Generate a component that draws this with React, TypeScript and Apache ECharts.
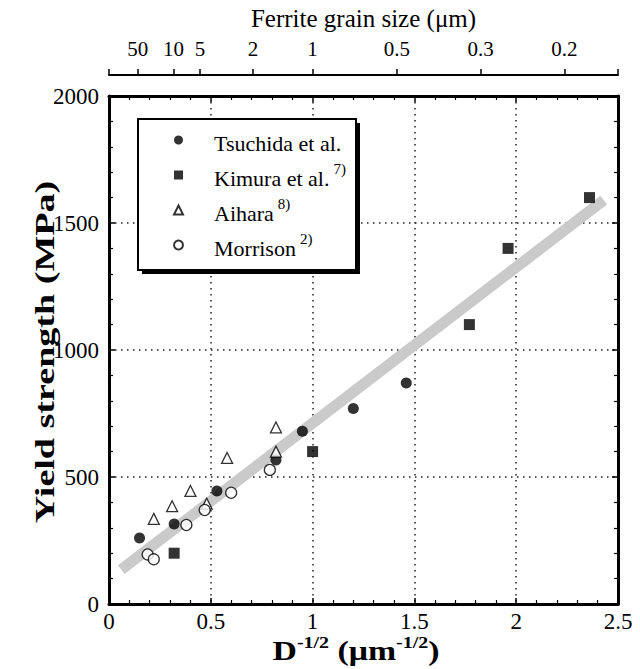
import { useEffect, useRef } from "react";
import * as echarts from "echarts";

const FONT = "Liberation Serif";

// Data (x = D^-1/2 in µm^-1/2, y = yield strength in MPa)
const tsuchida = [[0.15, 260], [0.32, 315], [0.53, 445], [0.82, 567], [0.95, 680], [1.2, 770], [1.46, 870]];
const kimura = [[0.32, 200], [1.0, 600], [1.77, 1100], [1.96, 1400], [2.36, 1600]];
const aihara = [[0.22, 335], [0.31, 385], [0.4, 445], [0.48, 395], [0.58, 575], [0.82, 695], [0.82, 600]];
const morrison = [[0.19, 195], [0.22, 176], [0.38, 311], [0.47, 370], [0.6, 438], [0.79, 528]];
const hallPetchFit = [[0.06, 135], [2.43, 1590]];

// Top axis: ferrite grain size labels (µm), placed at D^-1/2
const grainSizes = [50, 10, 5, 2, 1, 0.5, 0.3, 0.2];

const xMin = 0, xMax = 2.5, xStep = 0.5;
const yMin = 0, yMax = 2000, yStep = 500;

const legendNames = ["Tsuchida et al.", "Kimura et al.", "Aihara", "Morrison"];
const legendRefs = ["", "7)", "8)", "2)"];

export default function App() {
  const ref = useRef<HTMLDivElement>(null);
  useEffect(() => {
    document.body.style.margin = "0";
    if (!ref.current) return;
    const chart = echarts.init(ref.current, null, { renderer: "svg" });
    const grainPos = grainSizes.map((d) => 1 / Math.sqrt(d));

    const dotted = { color: "#222", width: 1.5, type: [1.5, 4.5] as any };
    const frameAxis = (extra: any) => ({
      type: "value",
      axisLine: { show: true, onZero: false, lineStyle: { color: "#000", width: 3 } },
      axisTick: { show: true, inside: true, length: 6, lineStyle: { color: "#000", width: 1.5 } },
      minorTick: { show: true, splitNumber: 5, length: 4, lineStyle: { color: "#000", width: 1.2 } },
      ...extra,
    });

    const labelStyle = { color: "#000", fontFamily: FONT, fontSize: 23 };

    chart.setOption({
      animation: false,
      backgroundColor: "#fff",
      textStyle: { fontFamily: FONT },
      grid: { left: 109, right: 22, top: 96, bottom: 65, containLabel: false },
      xAxis: [
        frameAxis({
          position: "bottom",
          min: xMin,
          max: xMax,
          interval: xStep,
          axisLabel: { ...labelStyle, margin: 6, formatter: (v: number) => String(v) },
          splitLine: { show: true, lineStyle: dotted },
        }),
        frameAxis({
          position: "top",
          min: xMin,
          max: xMax,
          interval: xStep,
          axisLabel: { show: false },
          splitLine: { show: false },
        }),
        {
          type: "value",
          position: "top",
          offset: 21,
          min: xMin,
          max: xMax,
          axisLine: { show: true, onZero: false, lineStyle: { color: "#000", width: 2 } },
          axisTick: {
            show: true,
            inside: false,
            length: 6,
            customValues: [xMin, ...grainPos, xMax],
            lineStyle: { color: "#000", width: 1.5 },
          },
          axisLabel: {
            ...labelStyle,
            fontSize: 21,
            margin: 16,
            customValues: grainPos,
            formatter: (v: number) => {
              const i = grainPos.findIndex((p) => Math.abs(p - v) < 1e-6);
              return i >= 0 ? String(grainSizes[i]) : "";
            },
          },
          splitLine: { show: false },
          name: "Ferrite grain size (\u03bcm)",
          nameLocation: "middle",
          nameGap: 44,
          nameTextStyle: { color: "#000", fontFamily: FONT, fontSize: 25 },
        },
      ],
      yAxis: [
        frameAxis({
          position: "left",
          min: yMin,
          max: yMax,
          interval: yStep,
          axisLabel: { ...labelStyle, margin: 10, formatter: (v: number) => String(v) },
          splitLine: { show: true, lineStyle: dotted },
        }),
        frameAxis({
          position: "right",
          min: yMin,
          max: yMax,
          interval: yStep,
          axisLabel: { show: false },
          splitLine: { show: false },
        }),
      ],
      legend: {
        data: legendNames,
        orient: "vertical",
        left: 138,
        top: 119,
        padding: [11, 10, 8, 35],
        itemGap: 7,
        itemWidth: 9,
        itemHeight: 9,
        selectedMode: false,
        z: 20,
        formatter: (name: string) => {
          const i = legendNames.indexOf(name);
          const r = legendRefs[i];
          return `{g| }{t|${name}}` + (r ? `{s|${r}}` : "");
        },
        textStyle: {
          color: "#000",
          fontFamily: FONT,
          fontSize: 22,
          rich: {
            g: { width: 26, lineHeight: 28, fontSize: 20, fontFamily: FONT },
            t: { fontSize: 22, fontFamily: FONT, lineHeight: 22, verticalAlign: "bottom", color: "#000" },
            s: { fontSize: 15, fontFamily: FONT, lineHeight: 15, verticalAlign: "top", color: "#000", padding: [0, 0, 0, 4] },
          },
        },
      },
      graphic: [
        { type: "rect", z: 10, shape: { x: 142, y: 123, width: 218, height: 151 }, style: { fill: "#000" } },
        { type: "rect", z: 11, shape: { x: 138, y: 119, width: 218, height: 151 }, style: { fill: "#fff", stroke: "#000", lineWidth: 2 } },
        {
          type: "text",
          z: 12,
          x: 44,
          y: 352,
          rotation: Math.PI / 2,
          scaleX: 1.36,
          style: {
            text: "Yield strength (MPa)",
            fontFamily: FONT,
            fontWeight: "bold",
            fontSize: 28,
            fill: "#000",
            align: "center",
            verticalAlign: "middle",
          },
        },
        {
          type: "text",
          z: 12,
          x: 356,
          y: 650,
          scaleX: 1.25,
          style: {
            text: "{b|D}{s|-1/2}{b| (\u03bcm}{s|-1/2}{b|)}",
            fill: "#000",
            align: "center",
            verticalAlign: "middle",
            rich: {
              b: { fontFamily: FONT, fontWeight: "bold", fontSize: 27, lineHeight: 30, verticalAlign: "bottom", fill: "#000" },
              s: { fontFamily: FONT, fontWeight: "bold", fontSize: 16, lineHeight: 16, verticalAlign: "top", fill: "#000" },
            },
          },
        },
      ],
      series: [
        {
          name: "fit",
          type: "line",
          data: hallPetchFit,
          showSymbol: false,
          silent: true,
          z: 1,
          lineStyle: { color: "#cacaca", width: 11, cap: "butt" },
        },
        {
          name: "Tsuchida et al.",
          type: "scatter",
          data: tsuchida,
          symbol: "circle",
          symbolSize: 11,
          itemStyle: { color: "#000" },
          z: 3,
        },
        {
          name: "Kimura et al.",
          type: "scatter",
          data: kimura,
          symbol: "rect",
          symbolSize: 11,
          itemStyle: { color: "#000" },
          z: 3,
        },
        {
          name: "Aihara",
          type: "scatter",
          data: aihara,
          symbol: "triangle",
          symbolSize: 11,
          itemStyle: { color: "#fff", borderColor: "#000", borderWidth: 1.3 },
          z: 3,
        },
        {
          name: "Morrison",
          type: "scatter",
          data: morrison,
          symbol: "circle",
          symbolSize: 11,
          itemStyle: { color: "#fff", borderColor: "#000", borderWidth: 1.3 },
          z: 3,
        },
      ],
    });
    return () => chart.dispose();
  }, []);
  return <div ref={ref} style={{ width: 640, height: 669 }} />;
}
